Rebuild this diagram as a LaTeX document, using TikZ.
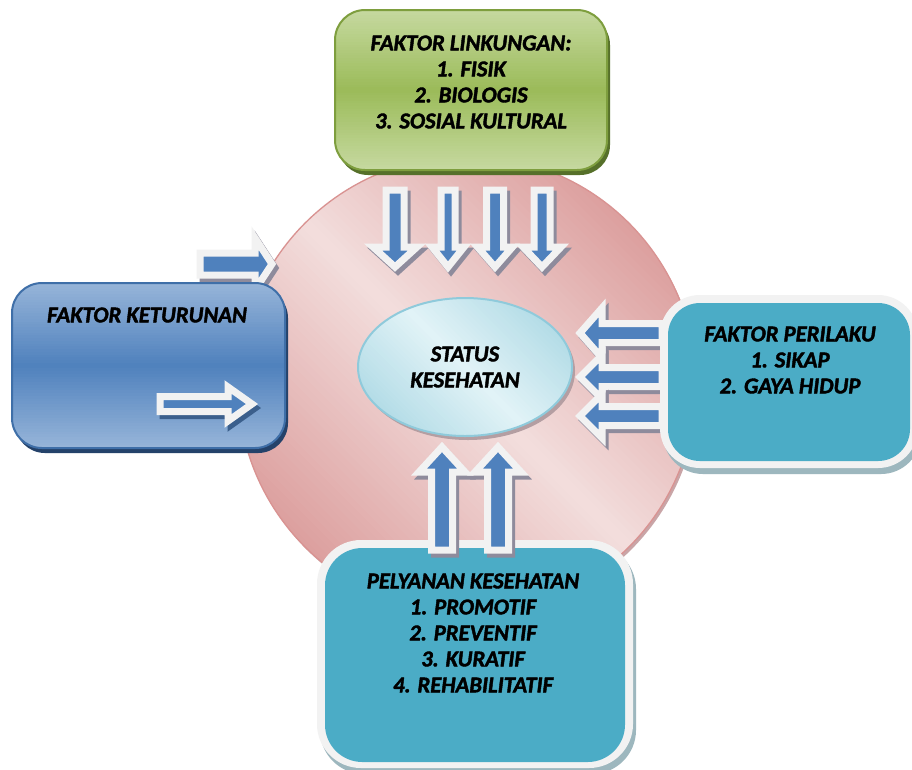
\documentclass[tikz,border=0pt]{standalone}
\usepackage{fontspec}
\setmainfont{Carlito}[BoldItalicFeatures={FakeBold=1.8}]
\usetikzlibrary{shapes.geometric}
\definecolor{pinkL}{HTML}{F3DEDD}
\definecolor{pinkD}{HTML}{DC9F9E}
\definecolor{pinkB}{HTML}{D99392}
\definecolor{pinkS}{HTML}{C9A5A7}
\definecolor{grnL}{HTML}{C6D9A0}
\definecolor{grnM}{HTML}{9BBB59}
\definecolor{grnB}{HTML}{7E9E3E}
\definecolor{grnS}{HTML}{56702A}
\definecolor{bluL}{HTML}{97B5D9}
\definecolor{bluM}{HTML}{4F81BD}
\definecolor{bluB}{HTML}{3F6FA8}
\definecolor{bluS}{HTML}{24426A}
\definecolor{tealbox}{HTML}{4BACC6}
\definecolor{offw}{HTML}{F2F2F2}
\definecolor{tshad}{HTML}{9DB7BE}
\definecolor{arrB}{HTML}{4F81BD}
\definecolor{arrS}{HTML}{8E8B9C}
\definecolor{arrSb}{HTML}{3B5F8C}
\definecolor{cyL}{HTML}{E2F3F7}
\definecolor{cyD}{HTML}{A9D7E3}
\definecolor{cyB}{HTML}{8FCADB}
\definecolor{cyS}{HTML}{B49EA2}
\tikzset{
  lbl/.style={font=\fontsize{17}{19.5}\selectfont\bfseries\itshape, align=center, inner sep=0pt},
  arrbody/.style={fill=arrB, draw=offw, line width=5.25pt, line join=miter, miter limit=10},
  arrshad/.style={fill=#1, draw=#1, line width=5.25pt, line join=miter, miter limit=10},
}
% #1 shadow colour, #2 rotation, #3 #4 tail, #5 length, #6 body half, #7 head half, #8 head length
\newcommand\BArrow[8][arrS]{%
  \begin{scope}[shift={(#3,#4)},shift={(3,4)},rotate=#2]
    \path[arrshad=#1] (0,-#6) -- ({#5-#8},-#6) -- ({#5-#8},-#7) -- (#5,0) -- ({#5-#8},#7) -- ({#5-#8},#6) -- (0,#6) -- cycle;
  \end{scope}
  \begin{scope}[shift={(#3,#4)},rotate=#2]
    \path[arrbody] (0,-#6) -- ({#5-#8},-#6) -- ({#5-#8},-#7) -- (#5,0) -- ({#5-#8},#7) -- ({#5-#8},#6) -- (0,#6) -- cycle;
  \end{scope}}
% vertical gradient in a rounded box: x1,y1,x2,y2,radius,end colour,middle colour
\newcommand\VGrad[7]{%
  \begin{scope}
    \clip[rounded corners=#5] (#1,#2) rectangle (#3,#4);
    \pgfmathsetmacro\gh{(#4-#2)/60}
    \foreach \i in {0,...,59} {
      \pgfmathsetmacro\gt{abs((\i+0.5)/30-1)*100}
      \fill[#6!\gt!#7] (#1,{#2+\gh*\i}) rectangle (#3,{#2+\gh*(\i+1)+1});
    }
  \end{scope}}
\begin{document}
\begin{tikzpicture}[x=0.75pt,y=-0.75pt]
\clip (0,0) rectangle (912,769);
\fill[white] (0,0) rectangle (912,769);

% big circle
\fill[pinkS] (469,388) circle [radius=229];
\begin{scope}
  \clip (467,385) circle [radius=229];
  \begin{scope}[shift={(467,385)}, rotate=45]
    \foreach \i in {0,...,79} {
      \pgfmathsetmacro\gt{abs((\i+0.5)/40-1)*100}
      \fill[pinkD!\gt!pinkL] ({-230+5.75*\i},-232) rectangle ({-229+5.75*(\i+1)},232);
    }
  \end{scope}
\end{scope}
\draw[pinkB, line width=1pt] (467,385) circle [radius=229];

% green box
\fill[grnS, rounded corners=22.5pt] (338,15) rectangle (610,175);
\VGrad{335}{10}{607}{170}{22.5pt}{grnL}{grnM}
\draw[grnB, line width=1.5pt, rounded corners=22.5pt] (335,10) rectangle (607,170);
\node[lbl] (lingkungan) at (471,82) {FAKTOR LINKUNGAN:\\1. FISIK\\2. BIOLOGIS\\3. SOSIAL KULTURAL};

% status ellipse
\fill[cyS] (468,371) ellipse [x radius=107, y radius=69];
\begin{scope}
  \clip (465,367) ellipse [x radius=107, y radius=69];
  \begin{scope}[shift={(465,367)}, rotate=45]
    \foreach \i in {0,...,59} {
      \pgfmathsetmacro\gt{abs((\i+0.5)/30-1)*100}
      \fill[cyD!\gt!cyL] ({-110+3.6667*\i},-112) rectangle ({-109+3.6667*(\i+1)},112);
    }
  \end{scope}
\end{scope}
\node[lbl, ellipse, minimum width=160.5pt, minimum height=103.5pt, draw=cyB, line width=1.5pt] (status) at (465,367) {STATUS\\KESEHATAN};

% top arrows
\BArrow{-90}{395}{190}{77}{9}{22}{20}
\BArrow{-90}{448}{190}{77}{7}{16}{20}
\BArrow{-90}{495}{190}{77}{8.5}{17.5}{20}
\BArrow{-90}{542}{190}{77}{8}{19}{20}

% left upper arrow and blue box
\BArrow{0}{200}{264}{72}{11}{26}{17}
\fill[bluS, rounded corners=22.5pt] (15,288) rectangle (288,453);
\VGrad{12}{283}{285}{448}{22.5pt}{bluL}{bluM}
\draw[bluB, line width=1.5pt, rounded corners=22.5pt] (12,283) rectangle (285,448);
\node[lbl] (keturunan) at (147,315) {FAKTOR KETURUNAN};
\BArrow[arrSb]{0}{160}{404}{92}{7.5}{17}{24}

% right arrows and box
\BArrow{180}{662}{333}{82}{9.5}{25}{22}
\BArrow{180}{662}{377}{82}{9.5}{22}{22}
\BArrow{180}{662}{416}{82}{9.5}{22}{22}
\fill[tshad, rounded corners=30pt] (663,300) rectangle (921,474);
\fill[offw, rounded corners=30pt] (660,295) rectangle (918,468);
\fill[tealbox, rounded corners=24pt] (668,303) rectangle (910,461);
\node[lbl] (perilaku) at (790,360) {FAKTOR PERILAKU\\1. SIKAP\\2. GAYA HIDUP};

% bottom box and arrows
\fill[tshad, rounded corners=33pt] (320,545) rectangle (636,774);
\fill[offw, rounded corners=33pt] (317,540) rectangle (633,768);
\fill[tealbox, rounded corners=28pt] (325,548) rectangle (625,762);
\node[lbl] (pelayanan) at (473,633) {PELYANAN KESEHATAN\\1. PROMOTIF\\2. PREVENTIF\\3. KURATIF\\4. REHABILITATIF};
\BArrow{90}{442}{550}{103}{10.5}{23}{25}
\BArrow{90}{498}{550}{103}{10.5}{23}{25}
\end{tikzpicture}
\end{document}
